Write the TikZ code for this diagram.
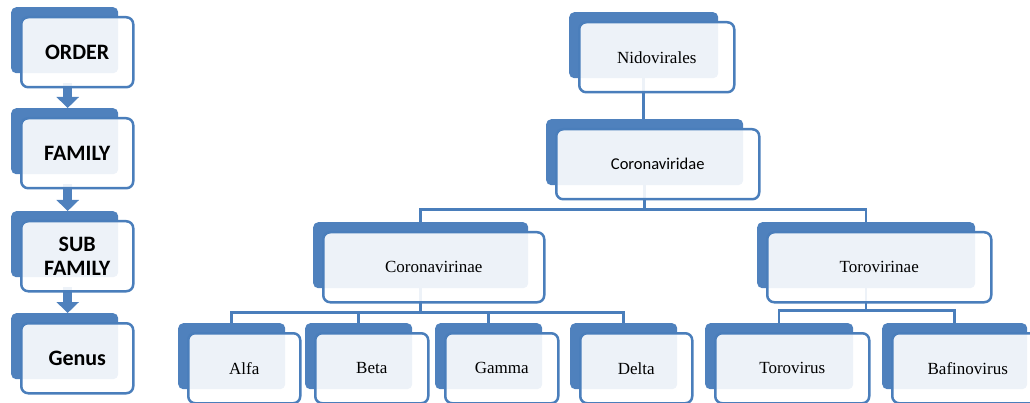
\documentclass[tikz,border=0pt]{standalone}
\usepackage{fontspec}
\setmainfont{Liberation Serif}
\newfontfamily\calibri{Carlito}
\usetikzlibrary{calc,arrows.meta}
\definecolor{smartblue}{HTML}{4F81BD}
\definecolor{linkblue}{HTML}{4A7EBB}
\tikzset{
  backbox/.style={fill=smartblue, rounded corners=5pt, minimum height=66pt, inner sep=0pt, anchor=north west},
  frontbox/.style={draw=linkblue, line width=2.5pt, rounded corners=7pt, fill=white, fill opacity=0.9, text opacity=1,
    minimum height=70pt, inner sep=0pt, anchor=north west, align=center, font=\fontsize{17}{20}\selectfont},
  rankbox/.style={frontbox, minimum width=112pt, font=\calibri\bfseries\fontsize{22}{24}\selectfont},
  link/.style={draw=linkblue, line width=2.5pt},
  flowarrow/.style={draw=smartblue, line width=9pt, shorten <=10pt, -{Triangle[width=22pt,length=11pt]}}
}
\begin{document}
\begin{tikzpicture}[x=1pt,y=-1pt]
\clip (0,0) rectangle (1030,403);
% back boxes
\node[backbox, minimum width=107pt] (orderB) at (11,7) {};
\node[backbox, minimum width=107pt] (familyB) at (11,108) {};
\node[backbox, minimum width=107pt] (subfamB) at (11,211) {};
\node[backbox, minimum width=107pt] (genusB) at (11,313) {};
\node[backbox, minimum width=149pt] (nidoB) at (569,12) {};
\node[backbox, minimum width=197pt] (cvidaeB) at (546,119) {};
\node[backbox, minimum width=215pt] (cvinaeB) at (313,222) {};
\node[backbox, minimum width=218pt] (tvinaeB) at (757,222) {};
\node[backbox, minimum width=107pt] (alfaB) at (178,323) {};
\node[backbox, minimum width=107pt] (betaB) at (305,323) {};
\node[backbox, minimum width=107pt] (gammaB) at (435,323) {};
\node[backbox, minimum width=107pt] (deltaB) at (570,323) {};
\node[backbox, minimum width=148pt] (torovB) at (705,323) {};
\node[backbox, minimum width=145pt] (bafinB) at (882,323) {};
% connectors
\draw[link] (nidoB.south) -- (nidoB.south |- cvidaeB.north);
\draw[link] (cvidaeB.south) -- ++(0,24) -| (cvinaeB.north);
\draw[link] (cvidaeB.south) -- ++(0,24) -| (tvinaeB.north);
\draw[link] (cvinaeB.south) -- ++(0,24) -| (alfaB.north);
\draw[link] (cvinaeB.south) -- ++(0,24) -| (betaB.north);
\draw[link] (cvinaeB.south) -- ++(0,24) -| (gammaB.north);
\draw[link] (cvinaeB.south) -- ++(0,24) -| (deltaB.north);
\draw[link] (tvinaeB.south) -- ++(0,22) -| (torovB.north);
\draw[link] (tvinaeB.south) -- ++(0,22) -| (bafinB.north);
\draw[flowarrow] ([xshift=3]orderB.south) -- ([xshift=3]familyB.north);
\draw[flowarrow] ([xshift=3]familyB.south) -- ([xshift=3]subfamB.north);
\draw[flowarrow] ([xshift=3]subfamB.south) -- ([xshift=3]genusB.north);
% front boxes
\node[rankbox] (order) at ([shift={(9,9)}]orderB.north west) {ORDER};
\node[rankbox] (family) at ([shift={(9,9)}]familyB.north west) {FAMILY};
\node[rankbox] (subfam) at ([shift={(9,9)}]subfamB.north west) {SUB\\FAMILY};
\node[rankbox] (genus) at ([shift={(9,9)}]genusB.north west) {Genus};
\node[frontbox, minimum width=155pt] (nido) at ([shift={(9,9)}]nidoB.north west) {Nidovirales};
\node[frontbox, minimum width=203pt, font=\calibri\fontsize{16.5}{20}\selectfont] (cvidae) at ([shift={(9,9)}]cvidaeB.north west) {Coronaviridae};
\node[frontbox, minimum width=221pt] (cvinae) at ([shift={(9,9)}]cvinaeB.north west) {Coronavirinae};
\node[frontbox, minimum width=224pt] (tvinae) at ([shift={(9,9)}]tvinaeB.north west) {Torovirinae};
\node[frontbox, minimum width=112pt] (alfa) at ([shift={(9,9)}]alfaB.north west) {Alfa};
\node[frontbox, minimum width=113pt] (beta) at ([shift={(9,9)}]betaB.north west) {Beta};
\node[frontbox, minimum width=113pt] (gamma) at ([shift={(9,9)}]gammaB.north west) {Gamma};
\node[frontbox, minimum width=112pt] (delta) at ([shift={(9,9)}]deltaB.north west) {Delta};
\node[frontbox, minimum width=154pt] (torov) at ([shift={(9,9)}]torovB.north west) {Torovirus};
\node[frontbox, minimum width=151pt] (bafin) at ([shift={(9,9)}]bafinB.north west) {Bafinovirus};
\end{tikzpicture}
\end{document}
